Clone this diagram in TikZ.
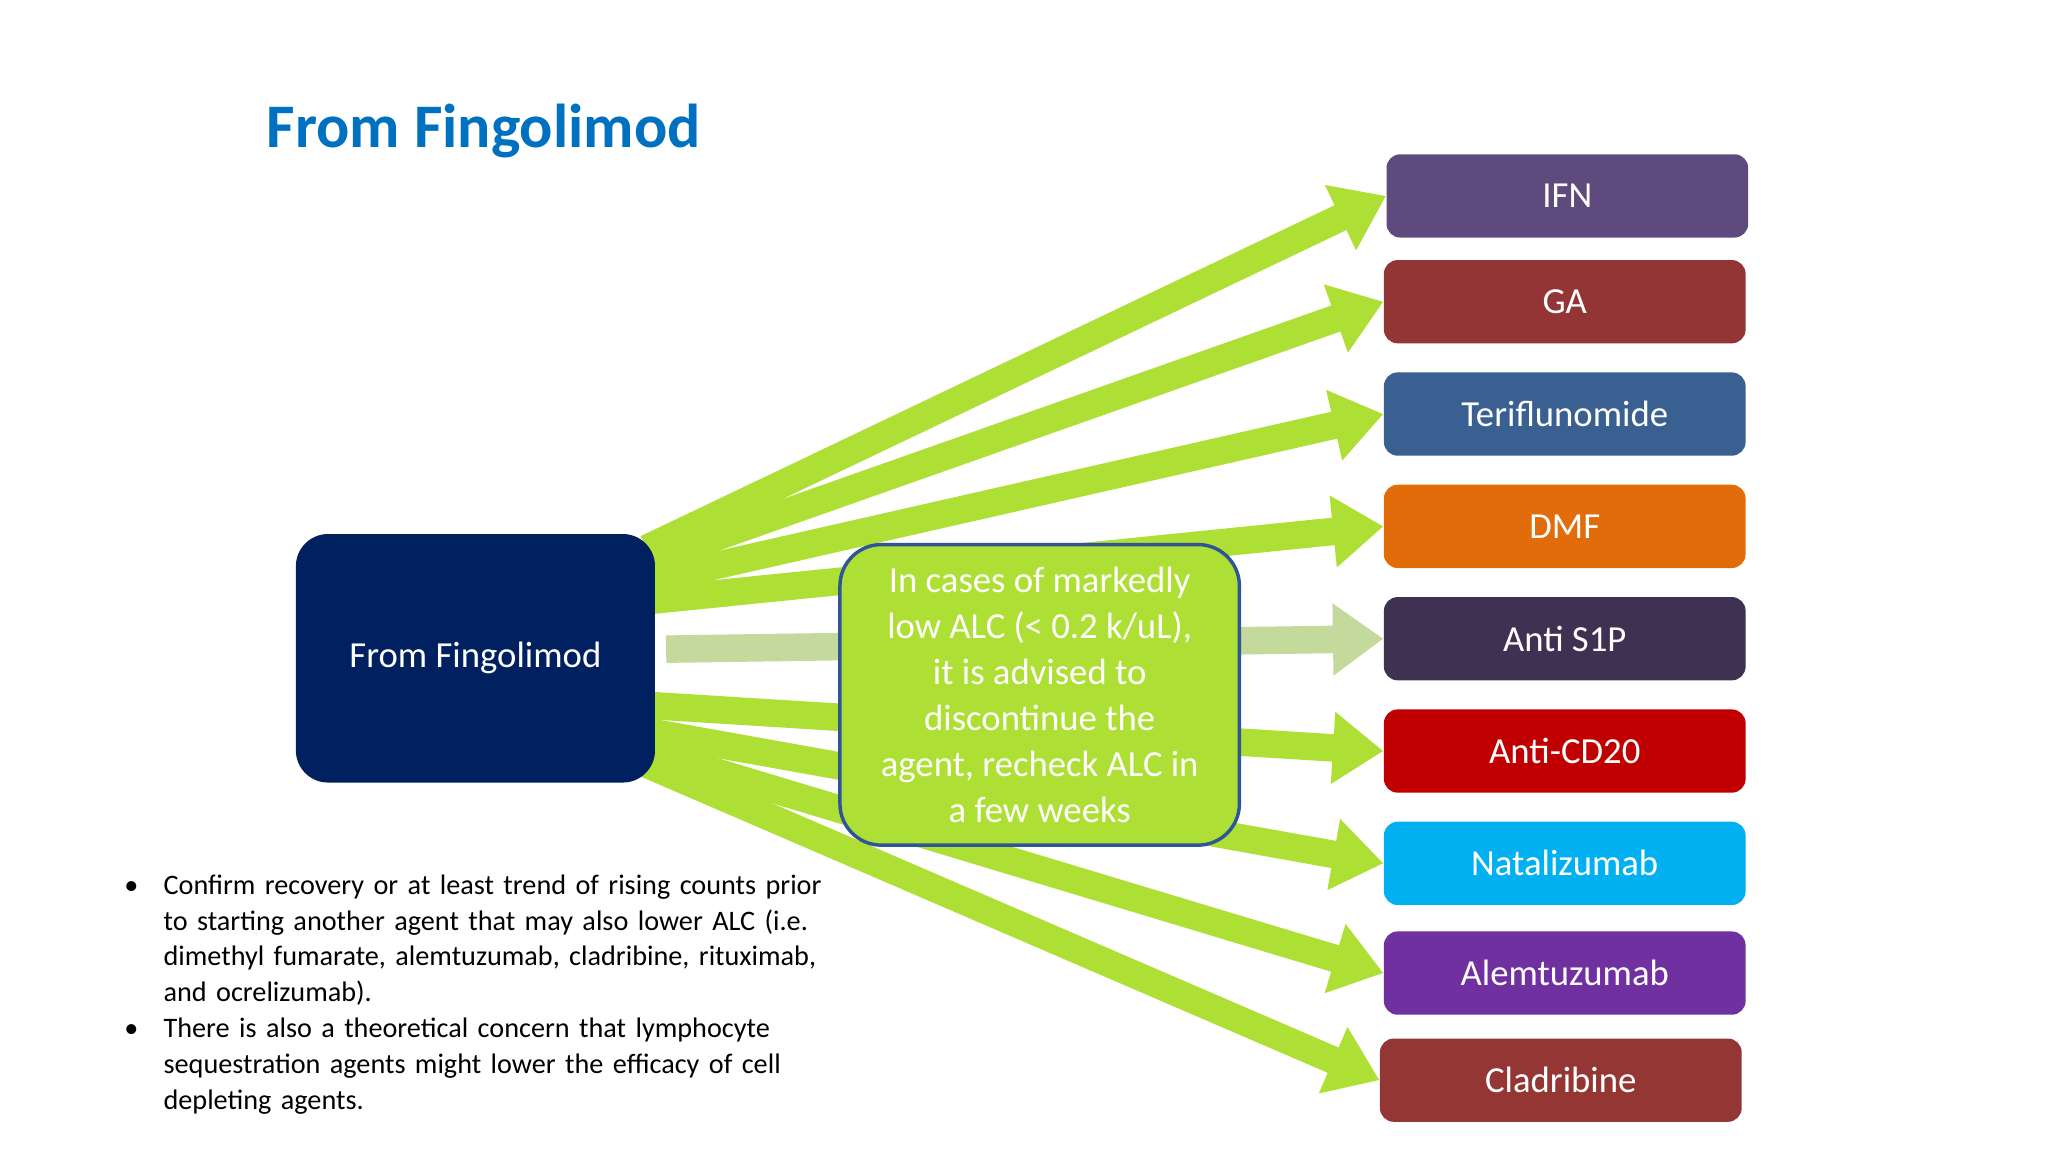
\documentclass[tikz,border=0pt]{standalone}
\usepackage{fontspec}
\setmainfont{Carlito}
\usetikzlibrary{arrows.meta}
\definecolor{gr}{HTML}{AEDF34}
\definecolor{pale}{HTML}{C4DA9D}
\begin{document}
\begin{tikzpicture}[x=0.02cm,y=-0.02cm,
 tgt/.style={draw=none,rounded corners=6pt,minimum width=278*0.567pt,minimum height=64*0.567pt,text=white,font=\fontsize{16}{19}\selectfont,inner sep=0pt},
 arr/.style={draw=gr,line width=12pt,-{Triangle[length=22pt,width=30pt]}}]
\useasboundingbox (0,0) rectangle (1568,882);
\fill[white] (0,0) rectangle (1568,882);
\node[anchor=west,text=blue!50!cyan!60!black,font=\fontsize{27}{30}\selectfont\bfseries,text={rgb,255:red,0;green,112;blue,192}] (title) at (198,100) {From Fingolimod};
\node[tgt,fill={rgb,255:red,94;green,74;blue,125}] (ifn) at (1200,150) {IFN};
\node[tgt,fill={rgb,255:red,148;green,53;blue,53}] (ga) at (1198,231) {GA};
\node[tgt,fill={rgb,255:red,58;green,95;blue,145}] (ter) at (1198,317) {Teriflunomide};
\node[tgt,fill={rgb,255:red,227;green,108;blue,10}] (dmf) at (1198,403) {DMF};
\node[tgt,fill={rgb,255:red,63;green,49;blue,81}] (s1p) at (1198,489) {Anti S1P};
\node[tgt,fill={rgb,255:red,192;green,0;blue,0}] (cd20) at (1198,575) {Anti-CD20};
\node[tgt,fill={rgb,255:red,0;green,176;blue,240}] (nat) at (1198,661) {Natalizumab};
\node[tgt,fill={rgb,255:red,112;green,48;blue,160}] (alem) at (1198,745) {Alemtuzumab};
\node[tgt,fill={rgb,255:red,148;green,54;blue,52}] (clad) at (1195,827) {Cladribine};
\coordinate (a1) at (495,420); \coordinate (a2) at (495,430);
\coordinate (a3) at (495,445); \coordinate (a4) at (495,460);
\coordinate (a6) at (495,540); \coordinate (a7) at (495,560);
\coordinate (a8) at (495,575); \coordinate (a9) at (495,585);
\coordinate (a5) at (510,497);
\draw[arr] (a1) -- (ifn.west);
\draw[arr] (a2) -- (ga.west);
\draw[arr] (a3) -- (ter.west);
\draw[arr] (a4) -- (dmf.west);
\draw[arr,draw=pale] (a5) -- (s1p.west);
\draw[arr] (a6) -- (cd20.west);
\draw[arr] (a7) -- (nat.west);
\draw[arr] (a8) -- (alem.west);
\draw[arr] (a9) -- (clad.west);
\node[fill={rgb,255:red,0;green,32;blue,96},rounded corners=14pt,minimum width=276*0.567pt,minimum height=191*0.567pt,text=white,font=\fontsize{16}{19}\selectfont] (src) at (364,504) {From Fingolimod};
\node[fill=gr,draw={rgb,255:red,47;green,85;blue,151},line width=1.5pt,rounded corners=18pt,minimum width=307*0.567pt,minimum height=231*0.567pt,text=white,align=center,font=\fontsize{16}{20}\selectfont,inner sep=2pt] (mid) at (796,532) {In cases of markedly\\low ALC (< 0.2 k/uL),\\it is advised to\\discontinue the\\agent, recheck ALC in\\a few weeks};
\node[anchor=north west,text width=545*0.567pt,font=\fontsize{12.3}{15.6}\selectfont,inner sep=0pt] (notes) at (88,657) {%
\begin{list}{\textbullet}{\leftmargin=21pt\labelwidth=10pt\labelsep=11pt\itemsep=0pt\parsep=0pt\topsep=0pt}
\item Confirm recovery or at least trend of rising counts prior to starting another agent that may also lower ALC (i.e. dimethyl fumarate, alemtuzumab, cladribine, rituximab, and ocrelizumab).
\item There is also a theoretical concern that lymphocyte sequestration agents might lower the efficacy of cell depleting agents.
\end{list}};
\end{tikzpicture}
\end{document}
